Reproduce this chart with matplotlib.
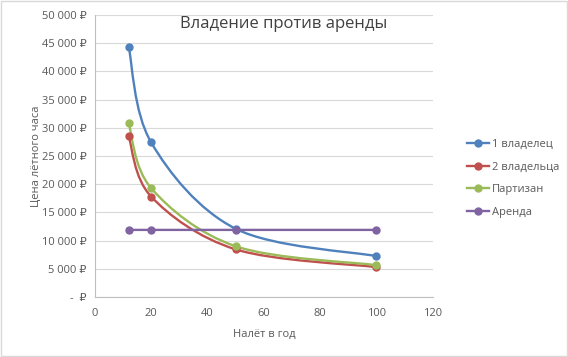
import numpy as np
import matplotlib.pyplot as plt
from matplotlib.path import Path
from matplotlib.patches import PathPatch, Rectangle
from matplotlib.lines import Line2D
from matplotlib.ticker import FuncFormatter

plt.rcParams['font.family'] = ['Open Sans', 'DejaVu Sans']

# данные
hours = [12, 20, 50, 100]
one_owner = [44400, 27400, 12100, 7250]
two_owners = [28500, 17800, 8450, 5300]
partisan = [30800, 19300, 9000, 5650]
rent = [11900, 11900, 11900, 11900]

names = ["1 владелец", "2 владельца", "Партизан", "Аренда"]
colors = ["#4F81BD", "#C0504D", "#9BBB59", "#8064A2"]
series = [one_owner, two_owners, partisan, rent]


def smooth_path(xs, ys):
    # сглаженная линия как в Excel: кривые Безье через точки
    p = np.column_stack([xs, ys]).astype(float)
    n = len(p)
    verts = [p[0]]
    codes = [Path.MOVETO]
    for i in range(n - 1):
        p0 = p[i - 1] if i > 0 else p[i]
        p3 = p[i + 2] if i + 2 < n else p[i + 1]
        c1 = p[i] + (p[i + 1] - p0) / 6
        c2 = p[i + 1] - (p3 - p[i]) / 6
        verts += [c1, c2, p[i + 1]]
        codes += [Path.CURVE4] * 3
    return Path(verts, codes)


fig = plt.figure(figsize=(5.68, 3.57), dpi=100)
ax = fig.add_axes([0.167, 0.168, 0.595, 0.790])

for name, col, ys in zip(names, colors, series):
    ax.add_patch(PathPatch(smooth_path(hours, ys), facecolor='none',
                           edgecolor=col, lw=1.7, zorder=3))
    ax.plot(hours, ys, 'o', color=col, ms=5, zorder=4)

ax.set_xlim(0, 120)
ax.set_ylim(0, 50000)
ax.set_xticks(range(0, 121, 20))
ax.set_yticks(range(0, 50001, 5000))


def rub(v, pos):
    if v == 0:
        return "-  \u20bd"
    return "{:,.0f} \u20bd".format(v).replace(",", " ")


ax.yaxis.set_major_formatter(FuncFormatter(rub))
ax.grid(axis='y', color='#d9d9d9', lw=0.8)
ax.set_axisbelow(True)
for s in ['top', 'right']:
    ax.spines[s].set_visible(False)
for s in ['left', 'bottom']:
    ax.spines[s].set_color('#bfbfbf')
ax.tick_params(length=0, labelsize=8, colors='#595959')
ax.tick_params(axis='x', pad=8)
ax.tick_params(axis='y', pad=6)

ax.set_xlabel("Налёт в год", fontsize=8, color='#595959', labelpad=7)
ax.set_ylabel("Цена лётного часа", fontsize=8, color='#595959', labelpad=0)
fig.text(0.5, 0.932, "Владение против аренды", ha='center', va='center',
         fontsize=12, color='#404040')

handles = [Line2D([], [], color=c, marker='o', ms=5, lw=1.7) for c in colors]
fig.legend(handles, names, loc='center left', bbox_to_anchor=(0.805, 0.5),
           frameon=False, fontsize=8, labelcolor='#595959', handlelength=2,
           handletextpad=0.2, labelspacing=1.05)

fig.add_artist(Rectangle((0.001, 0.002), 0.997, 0.995, transform=fig.transFigure,
                         fill=False, edgecolor='#d9d9d9', lw=1))

fig.savefig("out.png", dpi=100)
